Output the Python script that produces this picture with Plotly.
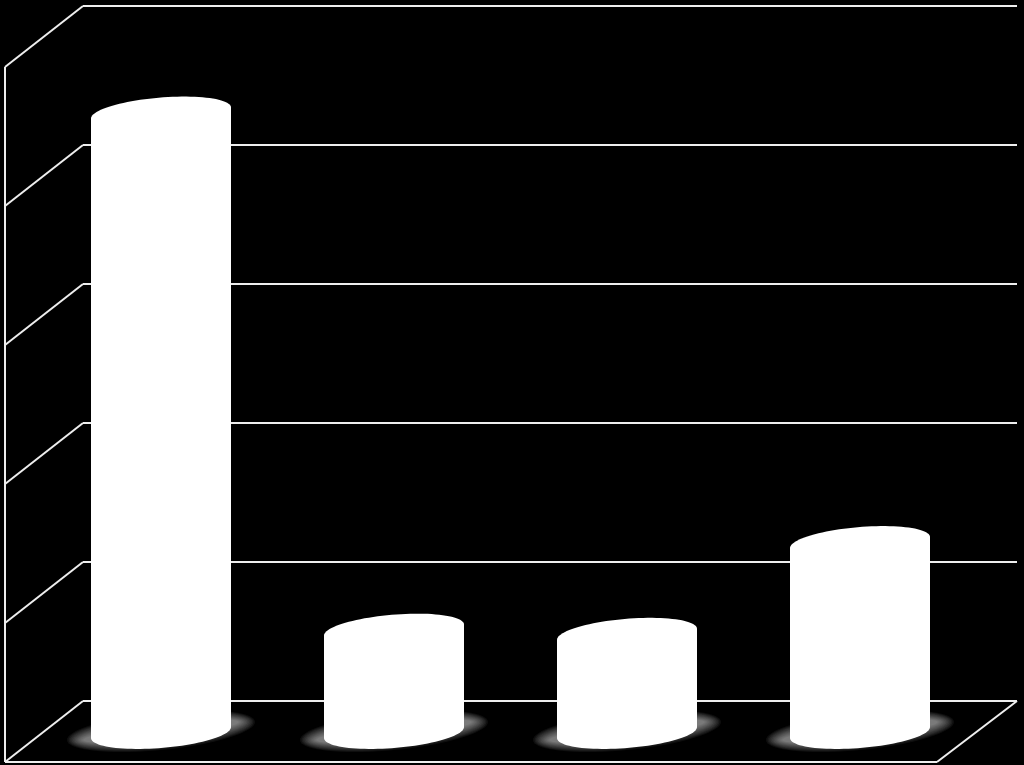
import numpy as np
import plotly.graph_objects as go

# ---- data (values in gridline units) ----
categories = [0, 1, 2, 3]
values = [4.23, 0.51, 0.48, 1.14]
grid_ticks = [0, 1, 2, 3, 4, 5]

# ---- page geometry (pixels) ----
W, H = 1024, 765
GRID_Y0, GRID_STEP = 701, 139      # pixel of tick 0, pixels per unit
CAT_X0, CAT_STEP = 161, 233        # pixel of first category, pixels per category
BACK_L, BACK_R = 83, 1017          # back wall
FRONT_L, FRONT_R = 5, 937          # front edge
DEPTH = 61                         # vertical depth offset (px)
BAR_W = 140
BASE_PX = 732.5
CAP_B, CAP_TILT = 15.5, 5.5
LINE = "#eeeeee"

sx = lambda px: (px - CAT_X0) / CAT_STEP
sy = lambda px: (GRID_Y0 - px) / GRID_STEP
base = sy(BASE_PX)
depth = DEPTH / GRID_STEP
inset = (CAP_TILT + 0.5) / GRID_STEP   # body stops where the tilted caps begin


def path_from(xs, ys):
    return "M" + "L".join(f"{x:.4f},{y:.4f}" for x, y in zip(xs, ys)) + "Z"


def ellipse(cx, cy, a, b, tilt, n=72):
    """Tilted ellipse path. cx in categories, cy in value units; a, b, tilt in px."""
    th = np.linspace(0, 2 * np.pi, n, endpoint=False)
    xs = cx + a * np.cos(th) / CAT_STEP
    ys = cy + (b * np.sin(th) + tilt * np.cos(th)) / GRID_STEP
    return path_from(xs, ys)


def cap(cx, cy, a, b, tilt, side, skirt=24, n=48):
    """Half of a tilted ellipse (side=+1 upper, -1 lower) closed by a skirt into the body."""
    th = np.linspace(0, np.pi, n)
    xs = cx + a * np.cos(th) / CAT_STEP
    ys = cy + (side * b * np.sin(th) + tilt * np.cos(th)) / GRID_STEP
    xs = np.concatenate([xs, [cx - a / CAT_STEP, cx + a / CAT_STEP]])
    ys = np.concatenate([ys, [cy - side * skirt / GRID_STEP] * 2])
    return path_from(xs, ys)


fig = go.Figure()
# carries the back-wall gridlines
fig.add_trace(go.Scatter(x=[None], y=[None], xaxis="x", yaxis="y",
                         mode="markers", hoverinfo="skip"))
fig.add_trace(go.Bar(
    x=categories,
    y=[(v - inset) - (base + inset) for v in values],
    base=base + inset,
    width=BAR_W / CAT_STEP,
    marker=dict(color="white", line=dict(width=0)),
    xaxis="x2", yaxis="y2",
    hoverinfo="skip",
))

shapes = []
ref = dict(xref="x2", yref="y2")


def seg(x0, y0, x1, y1):
    shapes.append(dict(type="line", x0=sx(x0), x1=sx(x1), y0=y0, y1=y1,
                       line=dict(color=LINE, width=2), layer="below", **ref))


# side wall diagonals, one per gridline
for t in grid_ticks:
    seg(BACK_L, t, FRONT_L, t - depth)
# left front edge, floor front edge and floor right edge
seg(FRONT_L, grid_ticks[-1] - depth, FRONT_L, grid_ticks[0] - depth)
seg(FRONT_L, grid_ticks[0] - depth, FRONT_R, grid_ticks[0] - depth)
seg(FRONT_R, grid_ticks[0] - depth, BACK_R, grid_ticks[0])

# soft glow below each cylinder
for c in categories:
    steps = 12
    for k in range(steps):
        f = 1 - k / steps
        shapes.append(dict(type="path",
                           path=ellipse(c, sy(731), BAR_W / 2 + 6 + 18 * f, 6 + 13 * f, 9),
                           fillcolor="rgba(255,255,255,0.055)", line=dict(width=0),
                           layer="below", **ref))

# cylinder caps
for c, v in zip(categories, values):
    shapes.append(dict(type="path", path=cap(c, v, BAR_W / 2, CAP_B, CAP_TILT, +1),
                       fillcolor="white", line=dict(width=0), layer="above", **ref))
    shapes.append(dict(type="path", path=cap(c, base, BAR_W / 2, CAP_B, CAP_TILT, -1),
                       fillcolor="white", line=dict(width=0), layer="above", **ref))

hidden = dict(showticklabels=False, ticks="", showline=False, zeroline=False, fixedrange=True)
y_range = [sy(H), sy(0)]
fig.update_layout(
    width=W, height=H,
    margin=dict(l=0, r=0, t=0, b=0),
    paper_bgcolor="black",
    plot_bgcolor="rgba(0,0,0,0)",
    showlegend=False,
    shapes=shapes,
    # grid subplot: gridlines only across the back wall
    xaxis=dict(domain=[BACK_L / W, BACK_R / W], range=[0, 1], showgrid=False, anchor="y", **hidden),
    yaxis=dict(domain=[0, 1], range=y_range, anchor="x",
               tickmode="array", tickvals=grid_ticks,
               showgrid=True, gridcolor=LINE, gridwidth=2, **hidden),
    # mark subplot: whole page
    xaxis2=dict(domain=[0, 1], range=[sx(0), sx(W)], showgrid=False, anchor="y2", **hidden),
    yaxis2=dict(domain=[0, 1], range=y_range, showgrid=False, anchor="x2", **hidden),
)

fig.write_html("out.html", config=dict(displayModeBar=False),
               post_script="document.body.style.margin='0';document.body.style.background='black';")
